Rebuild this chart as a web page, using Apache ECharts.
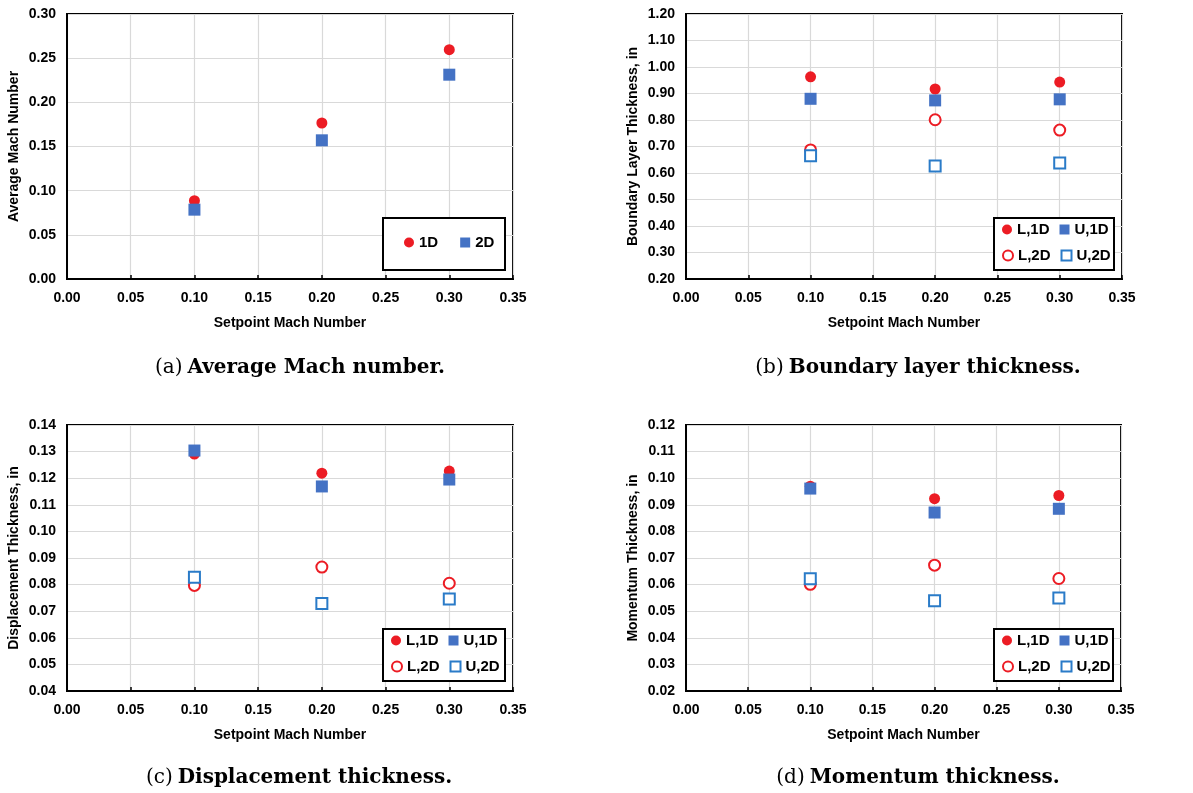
<!DOCTYPE html>
<html>
<head>
<meta charset="utf-8">
<script src="https://cdn.jsdelivr.net/npm/echarts@6/dist/echarts.min.js"></script>
<style>html,body{margin:0;padding:0;background:#fff}#c{width:1193px;height:793px}</style>
</head>
<body>
<div id="c"></div>
<script>
// ---- data ----
const setpoints = [0.10, 0.20, 0.30];

// (a) Average Mach number
const machA_1D = [0.0887, 0.1766, 0.2596];
const machA_2D = [0.0785, 0.1570, 0.2313];

// (b) Boundary layer thickness, in
const blt_L1D = [0.963, 0.917, 0.943];
const blt_U1D = [0.880, 0.874, 0.878];
const blt_L2D = [0.687, 0.801, 0.762];
const blt_U2D = [0.665, 0.626, 0.638];

// (c) Displacement thickness, in
const disp_L1D = [0.1291, 0.1219, 0.1227];
const disp_U1D = [0.1304, 0.1169, 0.1195];
const disp_L2D = [0.0797, 0.0866, 0.0805];
const disp_U2D = [0.0828, 0.0729, 0.0746];

// (d) Momentum thickness, in
const mom_L1D = [0.0970, 0.0923, 0.0935];
const mom_U1D = [0.0961, 0.0871, 0.0885];
const mom_L2D = [0.0601, 0.0673, 0.0623];
const mom_U2D = [0.0622, 0.0539, 0.0550];

const xTicks = [0.00, 0.05, 0.10, 0.15, 0.20, 0.25, 0.30, 0.35];
const yRanges = [
  {min: 0.00, max: 0.30, interval: 0.05, name: 'Average Mach Number'},
  {min: 0.20, max: 1.20, interval: 0.10, name: 'Boundary Layer Thickness, in'},
  {min: 0.04, max: 0.14, interval: 0.01, name: 'Displacement Thickness, in'},
  {min: 0.02, max: 0.12, interval: 0.01, name: 'Momentum Thickness, in'}
];
const captions = [
  ['(a)', 'Average Mach number.'],
  ['(b)', 'Boundary layer thickness.'],
  ['(c)', 'Displacement thickness.'],
  ['(d)', 'Momentum thickness.']
];
const xName = 'Setpoint Mach Number';

// ---- styles ----
const RED = '#EC1C24', BLUE = '#4472C4', BLUE_OPEN = '#2A7BC8';
const FONT = '"Liberation Sans", Arial, sans-serif';
const SERIF = '"DejaVu Serif", "Liberation Serif", serif';
const grids = [
  {left: 67, top: 14, width: 446, height: 265},
  {left: 686, top: 14, width: 436, height: 265},
  {left: 67, top: 425, width: 446, height: 266},
  {left: 686, top: 425, width: 435, height: 266}
];
const capPos = [[295, 354], [913, 354], [294, 764], [913, 764]];
// legend boxes [left, top, width, height]
const legendBoxes = [[382, 217, 122, 52], [993, 217, 120, 52], [382, 628, 122, 52], [993, 628, 119, 52]];

function zip(ys) { return setpoints.map((x, i) => [x, ys[i]]); }

const styles = {
  L1D: {symbol: 'circle', symbolSize: 11, itemStyle: {color: RED, opacity: 1}},
  U1D: {symbol: 'rect', symbolSize: 12, itemStyle: {color: BLUE, opacity: 1}},
  L2D: {symbol: 'circle', symbolSize: 11, itemStyle: {color: '#fff', borderColor: RED, borderWidth: 2, opacity: 1}},
  U2D: {symbol: 'rect', symbolSize: 11, itemStyle: {color: '#fff', borderColor: BLUE_OPEN, borderWidth: 2, opacity: 1}}
};

function sc(name, gi, key, data) {
  return Object.assign({type: 'scatter', name: name, xAxisIndex: gi, yAxisIndex: gi, data: zip(data),
    z: key.indexOf('1D') >= 0 ? 3 : 2, emphasis: {disabled: true}}, JSON.parse(JSON.stringify(styles[key])));
}

const series = [
  sc('1D', 0, 'L1D', machA_1D),
  sc('2D', 0, 'U1D', machA_2D),
  sc('L,1D', 1, 'L1D', blt_L1D), sc('U,1D', 1, 'U1D', blt_U1D),
  sc('L,2D', 1, 'L2D', blt_L2D), sc('U,2D', 1, 'U2D', blt_U2D),
  sc('L,1D', 2, 'L1D', disp_L1D), sc('U,1D', 2, 'U1D', disp_U1D),
  sc('L,2D', 2, 'L2D', disp_L2D), sc('U,2D', 2, 'U2D', disp_U2D),
  sc('L,1D', 3, 'L1D', mom_L1D), sc('U,1D', 3, 'U1D', mom_U1D),
  sc('L,2D', 3, 'L2D', mom_L2D), sc('U,2D', 3, 'U2D', mom_U2D)
];

const xAxes = grids.map((g, i) => ({
  type: 'value', gridIndex: i, min: xTicks[0], max: xTicks[xTicks.length - 1], interval: 0.05,
  name: xName, nameLocation: 'middle', nameGap: 37,
  nameTextStyle: {fontFamily: FONT, fontWeight: 'bold', fontSize: 14, color: '#000'},
  axisLine: {show: true, lineStyle: {color: '#000', width: 2}},
  axisTick: {show: true, inside: true, length: 4, lineStyle: {color: '#000', width: 1.5}},
  axisLabel: {fontFamily: FONT, fontWeight: 'bold', fontSize: 14, color: '#000', margin: 12, formatter: v => v.toFixed(2)},
  splitLine: {show: true, lineStyle: {color: '#d9d9d9', width: 1.2}}
}));

const yAxes = yRanges.map((r, i) => ({
  type: 'value', gridIndex: i, min: r.min, max: r.max, interval: r.interval,
  name: r.name, nameLocation: 'middle', nameGap: 46, nameRotate: 90,
  nameTextStyle: {fontFamily: FONT, fontWeight: 'bold', fontSize: 14, color: '#000'},
  axisLine: {show: true, lineStyle: {color: '#000', width: 2}},
  axisTick: {show: false},
  axisLabel: {fontFamily: FONT, fontWeight: 'bold', fontSize: 14, color: '#000', margin: 11, formatter: v => v.toFixed(2)},
  splitLine: {show: true, lineStyle: {color: '#d9d9d9', width: 1.2}}
}));

const legendText = {fontFamily: FONT, fontWeight: 'bold', fontSize: 15, color: '#000'};
const legends = [
  {data: ['1D', '2D'], left: 404, top: 235, padding: 0, itemGap: 22,
   itemWidth: 10, itemHeight: 10, textStyle: legendText, selectedMode: false}
];
[[1002, 217], [391, 628], [1002, 628]].forEach(p => {
  legends.push({data: ['L,1D', 'U,1D'], left: p[0], top: p[1] + 5, padding: 0, itemGap: 10,
    itemWidth: 10, itemHeight: 10, textStyle: Object.assign({width: 36}, legendText), selectedMode: false});
  legends.push({data: ['L,2D', 'U,2D'], left: p[0], top: p[1] + 31, padding: 0, itemGap: 10,
    itemWidth: 10, itemHeight: 10, textStyle: Object.assign({width: 36}, legendText), selectedMode: false});
});

const titles = captions.map((c, i) => ({
  text: '{n|' + c[0] + '} {b|' + c[1] + '}',
  left: capPos[i][0], top: capPos[i][1] - 1, textAlign: 'center',
  textStyle: {rich: {
    n: {fontFamily: SERIF, fontSize: 20, fontWeight: 'normal', color: '#000'},
    b: {fontFamily: SERIF, fontSize: 20, fontWeight: 'bold', color: '#000'}
  }}
}));

const graphics = legendBoxes.map(b => ({
  type: 'rect', left: b[0], top: b[1], z: 5,
  shape: {width: b[2], height: b[3]},
  style: {fill: '#fff', stroke: '#000', lineWidth: 2}
}));

const chart = echarts.init(document.getElementById('c'), null, {renderer: 'canvas'});
chart.setOption({
  backgroundColor: '#fff',
  animation: false,
  title: titles,
  grid: grids.map(g => Object.assign({show: true, borderColor: '#000', borderWidth: 2, backgroundColor: 'transparent'}, g)),
  xAxis: xAxes,
  yAxis: yAxes,
  legend: legends.map(l => Object.assign({z: 10}, l)),
  graphic: graphics,
  series: series
});
</script>
</body>
</html>
